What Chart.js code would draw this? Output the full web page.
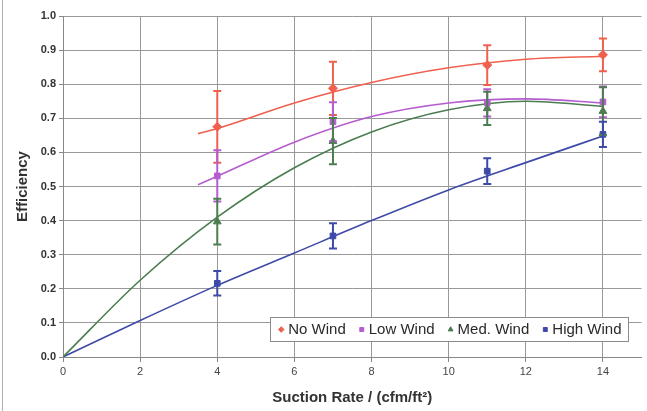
<!DOCTYPE html>
<html>
<head>
<meta charset="utf-8">
<script src="https://cdn.jsdelivr.net/npm/chart.js@4.4.1/dist/chart.umd.min.js"></script>
<style>
html, body { margin: 0; padding: 0; background: #fff; }
</style>
</head>
<body>
<canvas id="myChart" width="647" height="411"></canvas>
<script>
// measured points
const suction = [4, 7, 11, 14];
const noWind = [0.675, 0.788, 0.856, 0.886];
const noWindErr = [0.105, 0.078, 0.058, 0.048];
const lowWind = [0.531, 0.69, 0.745, 0.748];
const lowWindErr = [0.075, 0.057, 0.04, 0.045];
const medWind = [0.397, 0.633, 0.729, 0.721];
const medWindErr = [0.067, 0.068, 0.049, 0.07];
const highWind = [0.216, 0.355, 0.545, 0.653];
const highWindErr = [0.036, 0.037, 0.038, 0.037];

// trend curves
const trendXShort = [3.5, 4, 6, 8, 10, 12, 14];
const noWindTrend = [0.655, 0.67, 0.745, 0.805, 0.848, 0.873, 0.882];
const lowWindTrend = [0.505, 0.53, 0.63, 0.705, 0.745, 0.757, 0.745];
const trendXLong = [0, 2, 4, 6, 8, 10, 12, 14];
const medWindTrend = [0, 0.225, 0.41, 0.555, 0.66, 0.725, 0.75, 0.735];
const highWindTrend = [0, 0.107, 0.21, 0.305, 0.4, 0.49, 0.57, 0.648];

const xTicks = [0, 2, 4, 6, 8, 10, 12, 14];

const RED = '#f0604e', PURPLE = '#b55dd0', GREEN = '#4b7d4f', BLUE = '#3e4aa8';

const pts = (xs, ys) => xs.map((x, i) => ({x: x, y: ys[i]}));

function marks(label, ys, errs, color, style, r) {
    return {
        type: 'scatter', label: label, legend: true,
        data: pts(suction, ys), errors: errs,
        backgroundColor: color, borderColor: color,
        pointStyle: style, pointRadius: r, borderWidth: 1, order: 0
    };
}
function trend(xs, ys, color) {
    return {
        type: 'line', data: pts(xs, ys), borderColor: color, borderWidth: 1.6,
        pointRadius: 0, cubicInterpolationMode: 'monotone', fill: false, order: 2
    };
}

const frame = {
    id: 'frame',
    beforeDraw(chart) {
        const ctx = chart.ctx;
        ctx.save();
        ctx.fillStyle = '#fff';
        ctx.fillRect(0, 0, chart.width, chart.height);
        ctx.strokeStyle = '#b0b0b0';
        ctx.lineWidth = 1;
        ctx.beginPath();
        ctx.moveTo(2.5, 0);
        ctx.lineTo(2.5, chart.height);
        ctx.stroke();
        ctx.restore();
    }
};

const errorBars = {
    id: 'errorBars',
    afterDatasetsDraw(chart) {
        const ctx = chart.ctx;
        const xs = chart.scales.x, ys = chart.scales.y;
        ctx.save();
        chart.data.datasets.forEach(d => {
            if (!d.errors) return;
            ctx.strokeStyle = d.borderColor;
            ctx.lineWidth = 2;
            d.data.forEach((p, i) => {
                const px = xs.getPixelForValue(p.x);
                const top = ys.getPixelForValue(p.y + d.errors[i]);
                const bot = ys.getPixelForValue(p.y - d.errors[i]);
                ctx.beginPath();
                ctx.moveTo(px, top); ctx.lineTo(px, bot);
                ctx.moveTo(px - 4, top); ctx.lineTo(px + 4, top);
                ctx.moveTo(px - 4, bot); ctx.lineTo(px + 4, bot);
                ctx.stroke();
            });
        });
        ctx.restore();
    }
};

const legendBox = {
    id: 'legendBox',
    afterDraw(chart) {
        const ctx = chart.ctx, area = chart.chartArea;
        const items = chart.data.datasets.filter(d => d.legend);
        ctx.save();
        ctx.font = '15px "Liberation Sans", Arial, sans-serif';
        const widths = items.map(d => 8 + ctx.measureText(d.label).width);
        const gap = 15, padL = 11, padR = 6, h = 24;
        const total = padL + padR + widths.reduce((a, b) => a + b, 0) + gap * (items.length - 1);
        const right = area.right - 13, bottom = area.bottom - 16;
        const left = right - total, top = bottom - h;
        ctx.fillStyle = '#fff';
        ctx.fillRect(left, top, total, h);
        ctx.strokeStyle = '#8c8c8c';
        ctx.lineWidth = 1;
        ctx.strokeRect(Math.round(left) + 0.5, top + 0.5, Math.round(total), h);
        let x = left + padL;
        const cy = top + h / 2 + 0.5;
        items.forEach((d, i) => {
            ctx.fillStyle = d.backgroundColor;
            ctx.strokeStyle = d.borderColor;
            Chart.helpers.drawPoint(ctx, {pointStyle: d.pointStyle, radius: 2.8, borderWidth: 1, rotation: 0}, x, cy);
            ctx.fillStyle = '#2a2a2a';
            ctx.textBaseline = 'middle';
            ctx.fillText(d.label, x + 7, cy);
            x += widths[i] + gap;
        });
        ctx.restore();
    }
};

const ctx = document.getElementById('myChart').getContext('2d');
const myChart = new Chart(ctx, {
    type: 'scatter',
    data: {
        datasets: [
            marks('No Wind', noWind, noWindErr, RED, 'rectRot', 4.5),
            marks('Low Wind', lowWind, lowWindErr, PURPLE, 'rect', 4),
            marks('Med. Wind', medWind, medWindErr, GREEN, 'triangle', 4.5),
            marks('High Wind', highWind, highWindErr, BLUE, 'rect', 4),
            trend(trendXShort, noWindTrend, RED),
            trend(trendXShort, lowWindTrend, PURPLE),
            trend(trendXLong, medWindTrend, GREEN),
            trend(trendXLong, highWindTrend, BLUE)
        ]
    },
    options: {
        responsive: false,
        animation: false,
        layout: { padding: { top: 16, right: 2, left: 0, bottom: 0 } },
        plugins: { legend: { display: false }, tooltip: { enabled: false } },
        scales: {
            x: {
                type: 'linear', min: 0, max: 15,
                afterBuildTicks: axis => { axis.ticks = xTicks.map(v => ({value: v})); },
                afterFit: axis => { axis.height = 54; },
                grid: { color: '#999', tickLength: 5, tickColor: '#888' },
                border: { color: '#888' },
                ticks: { padding: 3, color: '#444', font: { family: '"Liberation Sans", Arial, sans-serif', size: 11 } },
                title: {
                    display: true, text: 'Suction Rate / (cfm/ft²)', color: '#333',
                    font: { family: '"Liberation Sans", Arial, sans-serif', size: 15, weight: 'bold' },
                    padding: { top: 0, bottom: 4 }
                }
            },
            y: {
                min: 0, max: 1,
                afterFit: axis => { axis.width = 63; },
                grid: { color: '#999', tickLength: 4, tickColor: '#888' },
                border: { color: '#888' },
                ticks: {
                    stepSize: 0.1, padding: 3, color: '#333',
                    callback: v => v.toFixed(1),
                    font: { family: '"Liberation Sans", Arial, sans-serif', size: 11, weight: 'bold' }
                },
                title: {
                    display: true, text: 'Efficiency', color: '#333',
                    font: { family: '"Liberation Sans", Arial, sans-serif', size: 15, weight: 'bold' },
                    padding: { top: 14, bottom: 0 }
                }
            }
        }
    },
    plugins: [frame, errorBars, legendBox]
});
</script>
</body>
</html>
